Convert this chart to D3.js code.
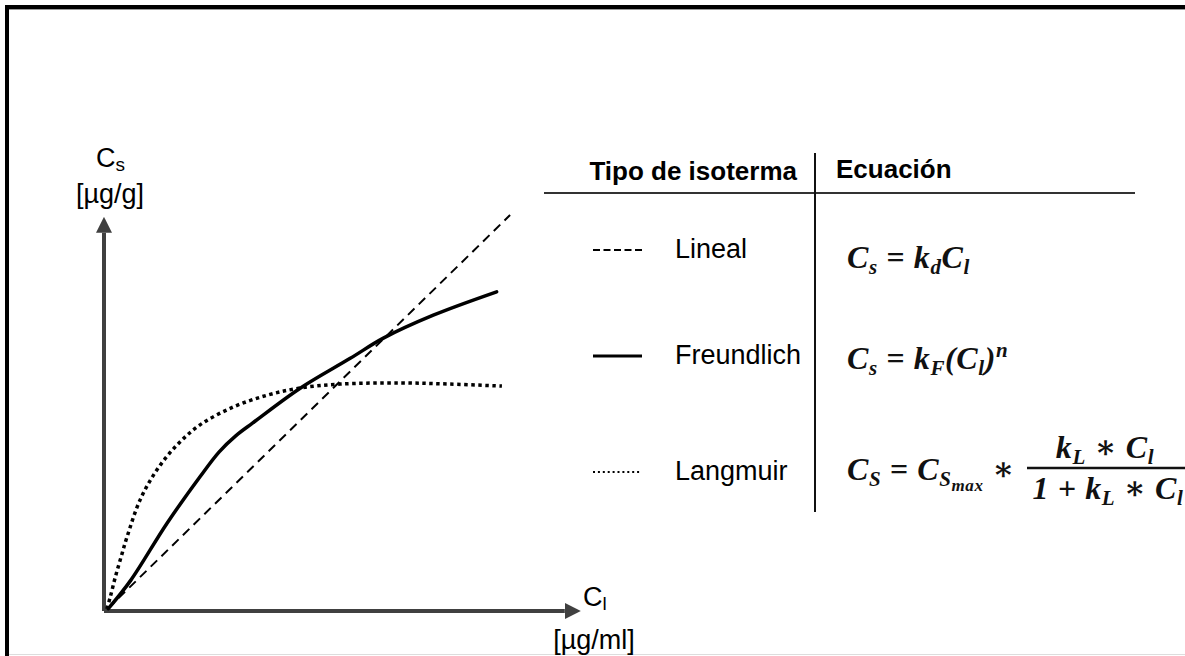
<!DOCTYPE html>
<meta charset="utf-8">
<style>
body { margin: 0; background: #fff; }
svg { display: block; }
.lbl { font-family: "Liberation Sans", Arial, sans-serif; font-size: 27px; fill: #000; }
.hdr { font-family: "Liberation Sans", Arial, sans-serif; font-size: 26px; font-weight: bold; fill: #000; }
.eq { font-family: "Liberation Serif", "DejaVu Serif", serif; font-style: italic; font-weight: bold; font-size: 32px; fill: #111; letter-spacing: 0.6px; }
.curve { fill: none; stroke: #000; }
.axis { stroke: #404040; stroke-width: 4px; fill: none; }
</style>
<svg width="1185" height="656"></svg>
<script src="https://cdn.jsdelivr.net/npm/d3@7/dist/d3.min.js"></script>
<script>
// isotherm shapes, arbitrary units (0-100 on both axes)
var lineal = [[0.8, 0.6], [84.6, 100]];
var freundlich = [[0.9, 0.6], [5.6, 7.8], [13.1, 22.1], [20.0, 33.9], [24.0, 40.2], [27.5, 44.3],
  [31.0, 47.5], [40.8, 56.2], [51.3, 63.8], [58.2, 68.9], [68.6, 74.7], [81.8, 80.6]];
var langmuir = [[0.6, 0.5], [1.3, 3.5], [2.3, 8.3], [3.5, 13.4], [4.8, 18.7], [7.5, 28.0], [11.0, 35.6],
  [15.2, 41.9], [20.0, 47.0], [26.9, 51.5], [34.0, 54.5], [40.8, 56.3], [49.2, 57.3], [61.7, 57.6],
  [72.1, 57.3], [82.9, 56.8]];

var isotermas = ["Lineal", "Freundlich", "Langmuir"];
var encabezados = ["Tipo de isoterma", "Ecuación"];
var ejeY = ["C", "s", "[µg/g]"];
var ejeX = ["C", "l", "[µg/ml]"];

var svg = d3.select("svg");

// marco
svg.append("rect").attr("x", 5).attr("y", 5).attr("width", 1180).attr("height", 4).attr("fill", "#000");
svg.append("rect").attr("x", 5).attr("y", 5).attr("width", 4).attr("height", 651).attr("fill", "#000");
svg.append("line").attr("x1", 9).attr("x2", 1185).attr("y1", 9.5).attr("y2", 9.5).attr("stroke", "#999");
svg.append("line").attr("x1", 9).attr("x2", 1185).attr("y1", 654.5).attr("y2", 654.5).attr("stroke", "#ddd");

var x = d3.scaleLinear().domain([0, 100]).range([104, 584]),
    y = d3.scaleLinear().domain([0, 100]).range([611, 215]);

svg.append("defs").append("marker")
    .attr("id", "flecha")
    .attr("markerUnits", "userSpaceOnUse")
    .attr("viewBox", "0 0 16 16")
    .attr("markerWidth", 16).attr("markerHeight", 16)
    .attr("refX", 0).attr("refY", 8)
    .attr("orient", "auto")
  .append("path")
    .attr("d", "M0,0L16,8L0,16Z")
    .attr("fill", "#404040");

var line = d3.line()
    .x(function(d) { return x(d[0]); })
    .y(function(d) { return y(d[1]); });

// ejes
svg.append("path").attr("class", "axis").attr("d", line([[0, 0], [96, 0]])).attr("marker-end", "url(#flecha)");
svg.append("path").attr("class", "axis").attr("d", line([[0, 0], [0, 95.5]])).attr("marker-end", "url(#flecha)");

// curvas
var curva = d3.line()
    .curve(d3.curveCatmullRom.alpha(0.5))
    .x(function(d) { return x(d[0]); })
    .y(function(d) { return y(d[1]); });

svg.append("path").attr("class", "curve").attr("d", curva(lineal))
    .attr("stroke-width", 2).attr("stroke-dasharray", "9,6");
svg.append("path").attr("class", "curve").attr("d", curva(langmuir))
    .attr("stroke-width", 3.5).attr("stroke-dasharray", "3.5,3.5");
svg.append("path").attr("class", "curve").attr("d", curva(freundlich))
    .attr("stroke-width", 3.5).attr("stroke-linecap", "round");

// etiquetas de ejes
function etiqueta(t, px, py) {
  var tx = svg.append("text").attr("class", "lbl").attr("x", px).attr("y", py);
  tx.append("tspan").text(t[0]);
  tx.append("tspan").attr("dy", 4).attr("font-size", "19px").text(t[1]);
}
etiqueta(ejeY, 96, 167);
svg.append("text").attr("class", "lbl").attr("x", 110).attr("y", 203).attr("text-anchor", "middle").text(ejeY[2]);
etiqueta(ejeX, 583, 606);
svg.append("text").attr("class", "lbl").attr("x", 594).attr("y", 649).attr("text-anchor", "middle").text(ejeX[2]);

// tabla
svg.append("text").attr("class", "hdr").attr("x", 797).attr("y", 180).attr("text-anchor", "end").text(encabezados[0]);
svg.append("text").attr("class", "hdr").attr("x", 836).attr("y", 178).text(encabezados[1]);
svg.append("line").attr("x1", 544).attr("x2", 1135).attr("y1", 193).attr("y2", 193).attr("stroke", "#333").attr("stroke-width", 2);
svg.append("line").attr("x1", 815).attr("x2", 815).attr("y1", 153).attr("y2", 512).attr("stroke", "#111").attr("stroke-width", 2);

var filaY = [250, 356, 472];
var muestras = [
  {w: 2, dash: "7,3.5"},
  {w: 3, dash: null},
  {w: 2, dash: "2,2.9"}
];
isotermas.forEach(function(nombre, i) {
  svg.append("line").attr("x1", 593).attr("x2", 642).attr("y1", filaY[i]).attr("y2", filaY[i])
      .attr("stroke", "#000").attr("stroke-width", muestras[i].w)
      .attr("stroke-dasharray", muestras[i].dash);
  svg.append("text").attr("class", "lbl").attr("x", 675).attr("y", filaY[i] + 8).text(nombre);
});

// ecuaciones
function ecuacion(px, py, partes, anchor) {
  var tx = svg.append("text").attr("class", "eq").attr("x", px).attr("y", py);
  if (anchor) tx.attr("text-anchor", anchor);
  var nivel = 0;
  var shift = {0: 0, 1: 6, 2: 11, "-1": -12};
  partes.forEach(function(p) {
    var k = p[1] || 0;
    var dy = shift[k] - shift[nivel];
    nivel = k;
    var size = k === 0 ? 32 : (k === 2 ? 17 : 21);
    tx.append("tspan").attr("dy", dy).attr("font-size", size + "px").text(p[0]);
  });
  return tx;
}
ecuacion(847, 268, [["C"], ["s", 1], ["  =   k"], ["d", 1], ["C"], ["l", 1]]);
ecuacion(847, 369, [["C"], ["s", 1], ["  =   k"], ["F", 1], ["(C"], ["l", 1], [")"], ["n", -1]]);
ecuacion(847, 480, [["C"], ["S", 1], ["  = C"], ["S", 1], ["max", 2], [" ∗"]]);
svg.append("line").attr("x1", 1027).attr("x2", 1185).attr("y1", 468).attr("y2", 468).attr("stroke", "#111").attr("stroke-width", 2.5);
ecuacion(1105, 458, [["k"], ["L", 1], [" ∗ C"], ["l", 1]], "middle");
ecuacion(1108, 499, [["1 +  k"], ["L", 1], [" ∗ C"], ["l", 1]], "middle");
</script>
